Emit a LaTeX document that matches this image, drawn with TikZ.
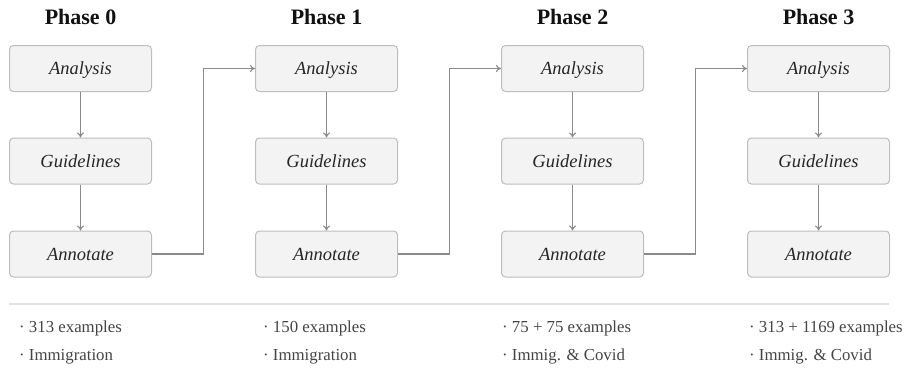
\documentclass[tikz,border=0pt]{standalone}
\usepackage{fontspec}
\setmainfont{Liberation Serif}
\usetikzlibrary{arrows.meta}
\definecolor{boxfill}{HTML}{F3F3F3}
\definecolor{boxline}{HTML}{BDBDBD}
\definecolor{conn}{HTML}{8A8A8A}
\definecolor{sep}{HTML}{E2E2E2}
\definecolor{note}{HTML}{444444}
\definecolor{head}{HTML}{111111}
\tikzset{
  stepbox/.style={draw=boxline, fill=boxfill, line width=1pt, rounded corners=4pt,
    minimum width=142pt, minimum height=46pt, inner sep=0pt, text height=14pt, text depth=2pt,
    font=\fontsize{18.5}{22}\selectfont\itshape, text=black!85},
  phasehead/.style={font=\fontsize{22}{26}\selectfont\bfseries, text=head},
  notetext/.style={font=\fontsize{16.8}{20}\selectfont, text=note, anchor=west, inner sep=0pt},
  conn/.style={draw=conn, line width=1.1pt, -{To[length=5pt,width=7pt]}},
}
\begin{document}
\begin{tikzpicture}[x=1pt,y=-1pt]
\useasboundingbox (0,0) rectangle (904,367);
\foreach \i/\cx in {0/80.5,1/326.5,2/572.5,3/818.5}{
  \node[phasehead] (h\i) at (\cx,17) {Phase \i};
  \node[stepbox] (a\i) at (\cx,68.5) {Analysis};
  \node[stepbox] (g\i) at (\cx,161) {Guidelines};
  \node[stepbox] (n\i) at (\cx,254) {Annotate};
  \draw[conn] (a\i) -- (g\i);
  \draw[conn] (g\i) -- (n\i);
}
\foreach \i/\j/\mx in {0/1/203.5,1/2/449.5,2/3/695.5}{
  \draw[conn] (n\i.east) -- (\mx,254) -- (\mx,68.5) -- (a\j.west);
}
\coordinate (sl) at (9,304);
\coordinate (sr) at (889,304);
\draw[sep, line width=1.5pt] (sl) -- (sr);
\node[notetext] (t0a) at (19,328.5) {· 313 examples};
\node[notetext] (t0b) at (19,356.5) {· Immigration};
\node[notetext] (t1a) at (263,328.5) {· 150 examples};
\node[notetext] (t1b) at (263,356.5) {· Immigration};
\node[notetext] (t2a) at (502,328.5) {· 75 + 75 examples};
\node[notetext] (t2b) at (502,356.5) {· Immig. \& Covid};
\node[notetext] (t3a) at (749,328.5) {· 313 + 1169 examples};
\node[notetext] (t3b) at (749,356.5) {· Immig. \& Covid};
\end{tikzpicture}
\end{document}
